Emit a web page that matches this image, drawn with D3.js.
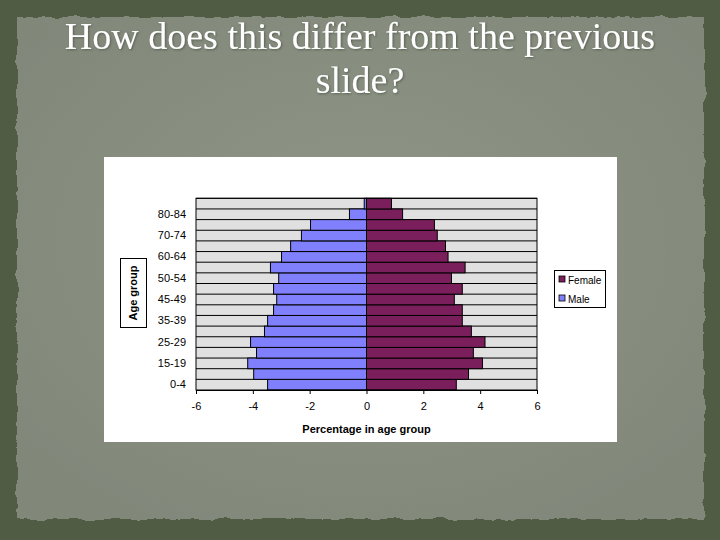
<!DOCTYPE html>
<html>
<head>
<meta charset="utf-8">
<script src="https://cdn.jsdelivr.net/npm/d3@7"></script>
<style>
html,body{margin:0;padding:0;background:#4f5a42;}
svg{display:block;}
</style>
</head>
<body>
<div id="chart"></div>
<script>
// Categories from bottom (0-4) to top; only every other label is displayed (as in the original)
const categories = ["0-4","5-9","15-19","20-24","25-29","30-34","35-39","40-44","45-49","45-54","50-54","55-59","60-64","65-69","70-74","75-79","80-84","85+"];
const maleValues =   [-3.48,-3.97,-4.18,-3.87,-4.08,-3.59,-3.48,-3.27,-3.16,-3.27,-3.09,-3.38,-2.99,-2.67,-2.29,-1.97,-0.60,-0.08];
const femaleValues = [3.16,3.59,4.08,3.76,4.17,3.69,3.37,3.37,3.09,3.37,2.99,3.47,2.87,2.78,2.49,2.39,1.27,0.88];
const xTicks = [-6,-4,-2,0,2,4,6];
const seriesNames = ["Female","Male"];
const colors = {Female:"#7b1e5c", Male:"#8080fc"};
const titleLines = ["How does this differ from the previous","slide?"];

const W = 720, H = 540;
const svg = d3.select("#chart").append("svg").attr("width", W).attr("height", H);
const defs = svg.append("defs");

// torn-paper edge filter
const f = defs.append("filter").attr("id","torn").attr("x","-5%").attr("y","-5%").attr("width","110%").attr("height","110%");
f.append("feTurbulence").attr("type","fractalNoise").attr("baseFrequency","0.06").attr("numOctaves","3").attr("seed","4").attr("result","n");
f.append("feDisplacementMap").attr("in","SourceGraphic").attr("in2","n").attr("scale","7").attr("xChannelSelector","R").attr("yChannelSelector","G");

const shadow = defs.append("filter").attr("id","tshadow");
shadow.append("feDropShadow").attr("dx","1").attr("dy","1").attr("stdDeviation","0.8").attr("flood-color","#3a4033").attr("flood-opacity","0.6");

const vg = defs.append("radialGradient").attr("id","paper").attr("cx","50%").attr("cy","45%").attr("r","65%");
vg.append("stop").attr("offset","0%").attr("stop-color","#8f9687");
vg.append("stop").attr("offset","100%").attr("stop-color","#81887a");

// background
svg.append("rect").attr("width",W).attr("height",H).attr("fill","#515c45");
svg.append("rect").attr("x",17).attr("y",17).attr("width",687).attr("height",502)
  .attr("fill","url(#paper)").attr("filter","url(#torn)");

// title
svg.append("g").attr("filter","url(#tshadow)").selectAll("text").data(titleLines).enter().append("text")
  .attr("x",360).attr("y",(d,i)=>49+i*44)
  .attr("text-anchor","middle")
  .attr("font-family","'Liberation Serif','DejaVu Serif',serif")
  .attr("font-size",38).attr("fill","#ffffff").text(d=>d);

// chart box
svg.append("rect").attr("x",104).attr("y",157).attr("width",513).attr("height",285).attr("fill","#ffffff");

const plot = {left:196, right:537, top:198.3, bottom:390};
const x = d3.scaleLinear().domain([-6,6]).range([plot.left, plot.right]);
const idx = d3.range(categories.length);
const y = d3.scaleBand().domain(idx).range([plot.bottom, plot.top]).padding(0);

const g = svg.append("g");
g.append("rect").attr("x",plot.left).attr("y",plot.top).attr("width",plot.right-plot.left).attr("height",plot.bottom-plot.top)
  .attr("fill","#e0e0e0");

// category separator lines
g.selectAll("line.sep").data(idx).enter().append("line").attr("class","sep")
  .attr("x1",plot.left).attr("x2",plot.right)
  .attr("y1",d=>y(d)).attr("y2",d=>y(d))
  .attr("stroke","#000").attr("stroke-width",1);

// bars
g.selectAll("rect.male").data(maleValues).enter().append("rect").attr("class","male")
  .attr("x",d=>x(d)).attr("width",d=>x(0)-x(d))
  .attr("y",(d,i)=>y(i)).attr("height",y.bandwidth())
  .attr("fill",colors.Male).attr("stroke","#000").attr("stroke-width",1);
g.selectAll("rect.female").data(femaleValues).enter().append("rect").attr("class","female")
  .attr("x",x(0)).attr("width",d=>x(d)-x(0))
  .attr("y",(d,i)=>y(i)).attr("height",y.bandwidth())
  .attr("fill",colors.Female).attr("stroke","#000").attr("stroke-width",1);

// plot border
g.append("rect").attr("x",plot.left).attr("y",plot.top).attr("width",plot.right-plot.left).attr("height",plot.bottom-plot.top)
  .attr("fill","none").attr("stroke","#000").attr("stroke-width",1);

// x axis
const xAxis = svg.append("g").attr("transform",`translate(0,${plot.bottom})`)
  .call(d3.axisBottom(x).tickValues(xTicks).tickSize(4).tickPadding(8).tickFormat(d=>String(d)));
xAxis.select(".domain").attr("stroke","#000");
xAxis.selectAll("text").attr("font-family","'Liberation Sans',Arial,sans-serif").attr("font-size",11).attr("fill","#000");

// y axis labels
const yAxis = svg.append("g").attr("transform",`translate(${plot.left},0)`)
  .call(d3.axisLeft(y).tickValues(idx.filter(i=>i%2===0)).tickSize(0).tickPadding(10).tickFormat(i=>categories[i]));
yAxis.select(".domain").remove();
yAxis.selectAll("text").attr("font-family","'Liberation Sans',Arial,sans-serif").attr("font-size",11).attr("fill","#000");

// axis titles
svg.append("text").attr("x",x(0)).attr("y",433).attr("text-anchor","middle")
  .attr("font-family","'Liberation Sans',Arial,sans-serif").attr("font-size",11).attr("font-weight","bold").text("Percentage in age group");
svg.append("rect").attr("x",120.5).attr("y",258.5).attr("width",26).attr("height",69).attr("fill","#fff").attr("stroke","#000");
svg.append("text").attr("transform","translate(137,293) rotate(-90)").attr("text-anchor","middle")
  .attr("font-family","'Liberation Sans',Arial,sans-serif").attr("font-size",11).attr("font-weight","bold").text("Age group");

// legend
const lg = svg.append("g");
lg.append("rect").attr("x",554.5).attr("y",270.5).attr("width",51).attr("height",37).attr("fill","#fff").attr("stroke","#000");
const li = lg.selectAll("g.item").data(seriesNames).enter().append("g").attr("class","item")
  .attr("transform",(d,i)=>`translate(559,${280+i*19})`);
li.append("rect").attr("x",0).attr("y",-4).attr("width",6).attr("height",6)
  .attr("fill",d=>colors[d]).attr("stroke","#000").attr("stroke-width",0.8);
li.append("text").attr("x",9).attr("y",3.5)
  .attr("font-family","'Liberation Sans',Arial,sans-serif").attr("font-size",10).text(d=>d);
</script>
</body>
</html>
